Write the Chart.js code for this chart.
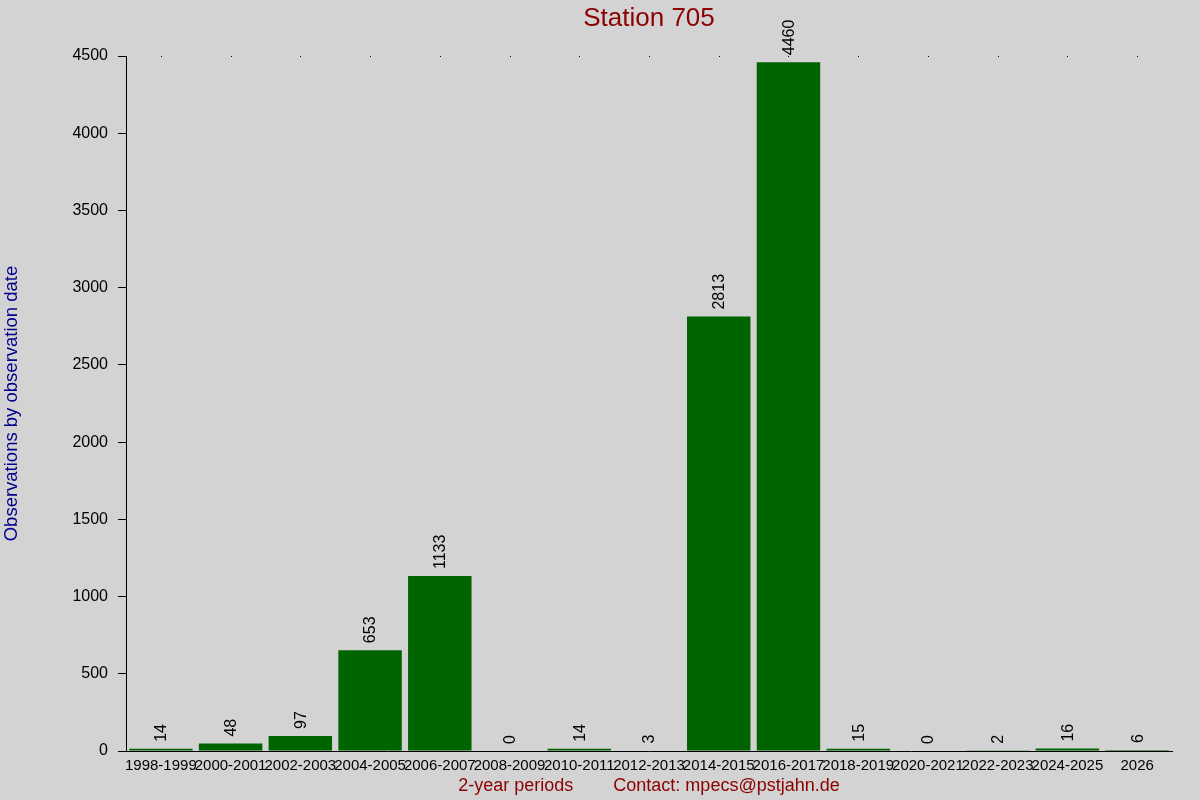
<!DOCTYPE html>
<html>
<head>
<meta charset="utf-8">
<script src="https://cdn.jsdelivr.net/npm/chart.js@4/dist/chart.umd.min.js"></script>
<style>
html,body{margin:0;padding:0;background:#d3d3d3;}
#wrap{width:1200px;height:800px;}
</style>
</head>
<body>
<div id="wrap"><canvas id="c" width="1200" height="800"></canvas></div>
<script>
const categories = ["1998-1999","2000-2001","2002-2003","2004-2005","2006-2007","2008-2009","2010-2011","2012-2013","2014-2015","2016-2017","2018-2019","2020-2021","2022-2023","2024-2025","2026"];
const observations = [14,48,97,653,1133,0,14,3,2813,4460,15,0,2,16,6];
const yTicks = [0,500,1000,1500,2000,2500,3000,3500,4000,4500];

const FONT = "'Liberation Sans', Arial, sans-serif";

const bgPlugin = {
  id: 'bg',
  beforeDraw(chart){
    const ctx = chart.ctx;
    ctx.save();
    ctx.fillStyle = '#d3d3d3';
    ctx.fillRect(0,0,chart.width,chart.height);
    ctx.restore();
  }
};

const dotsPlugin = {
  id: 'dots',
  afterDraw(chart){
    const ctx = chart.ctx;
    const xs = chart.scales.x;
    const top = Math.round(chart.chartArea.top);
    ctx.save();
    ctx.fillStyle = '#000';
    categories.forEach((c,i)=>{
      const x = Math.round(xs.getPixelForValue(i));
      ctx.fillRect(x, top, 1, 1);
    });
    ctx.restore();
  }
};

const valuePlugin = {
  id: 'values',
  afterDatasetsDraw(chart){
    const ctx = chart.ctx;
    const meta = chart.getDatasetMeta(0);
    ctx.save();
    ctx.fillStyle = '#000';
    ctx.font = '16px ' + FONT;
    ctx.textAlign = 'left';
    ctx.textBaseline = 'middle';
    meta.data.forEach((bar,i)=>{
      ctx.save();
      ctx.translate(bar.x + 1, bar.y - 7);
      ctx.rotate(-Math.PI/2);
      ctx.fillText(String(observations[i]), 0, 0);
      ctx.restore();
    });
    ctx.restore();
  }
};

new Chart(document.getElementById('c'), {
  type: 'bar',
  data: {
    labels: categories,
    datasets: [{
      data: observations,
      backgroundColor: '#006400',
      borderWidth: 0,
      barPercentage: 0.91,
      categoryPercentage: 1.0
    }]
  },
  options: {
    responsive: false,
    animation: false,
    devicePixelRatio: 1,
    layout: { padding: { left: 0, right: 28, top: 0, bottom: 0 } },
    plugins: {
      legend: { display: false },
      tooltip: { enabled: false },
      title: {
        display: true,
        text: 'Station 705',
        color: '#8b0000',
        fullSize: false,
        font: { family: FONT, size: 26, weight: 'normal' },
        padding: { top: 3, bottom: 21.8 }
      }
    },
    scales: {
      x: {
        grid: { display: true, drawOnChartArea: false, drawTicks: false },
        border: { display: true, color: '#000', width: 1 },
        ticks: {
          color: '#000',
          font: { family: FONT, size: 15 },
          autoSkip: false,
          maxRotation: 0,
          minRotation: 0,
          padding: 6
        },
        title: {
          display: true,
          text: '2-year periods\u00a0\u00a0\u00a0\u00a0\u00a0\u00a0\u00a0\u00a0Contact: mpecs@pstjahn.de',
          color: '#8b0000',
          font: { family: FONT, size: 18 },
          padding: { top: 0, bottom: 3 }
        },
        afterFit(scale){ scale.height = 49; }
      },
      y: {
        min: 0,
        max: 4500,
        afterBuildTicks(scale){ scale.ticks = yTicks.map(v=>({value:v})); },
        grid: { display: true, drawOnChartArea: false, drawTicks: true, tickLength: 8, tickColor: '#000' },
        border: { display: true, color: '#000', width: 1 },
        ticks: {
          color: '#000',
          font: { family: FONT, size: 16 },
          padding: 10,
          callback: (v) => String(v)
        },
        title: {
          display: true,
          text: 'Observations by observation date',
          color: '#00008b',
          font: { family: FONT, size: 18.5 },
          padding: { top: 1, bottom: 0 }
        },
        afterFit(scale){ scale.width = 126; }
      }
    }
  },
  plugins: [bgPlugin, dotsPlugin, valuePlugin]
});
</script>
</body>
</html>
